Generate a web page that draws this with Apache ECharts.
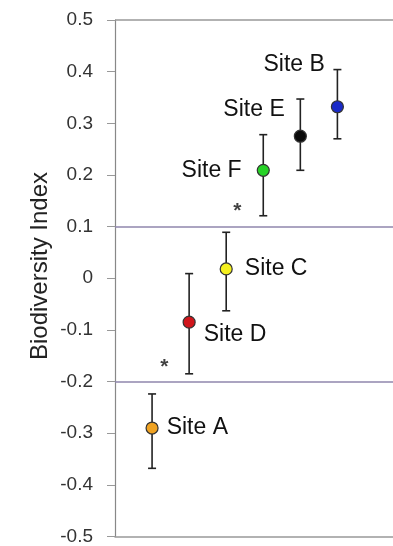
<!DOCTYPE html>
<html>
<head>
<meta charset="utf-8">
<script src="https://cdn.jsdelivr.net/npm/echarts@6/dist/echarts.min.js"></script>
<style>
  html, body { margin: 0; padding: 0; background: #fff; }
  #chart { width: 393px; height: 546px; }
</style>
</head>
<body>
<div id="chart"></div>
<script>
// site order along x (1..6)
const sites = ['Site A', 'Site D', 'Site C', 'Site F', 'Site E', 'Site B']
const xPos = [1, 2, 3, 4, 5, 6]
const means = [-0.29, -0.085, 0.018, 0.209, 0.275, 0.332]
const upper = [-0.224, 0.009, 0.089, 0.278, 0.347, 0.404]
const lower = [-0.368, -0.185, -0.063, 0.121, 0.209, 0.270]
const dotColors = ['#f0a323', '#d0151b', '#f5f01e', '#27d327', '#0a0a0a', '#1a2ac8']
// significance stars
const starX = [3.3, 1.33]
const starY = [0.13, -0.172]
// horizontal reference lines
const groupLines = [0.1, -0.2]
const yTicks = { min: -0.5, max: 0.5, interval: 0.1 }

// where each site label sits relative to its dot
const labelPlace = {
  'Site A': { position: 'right', offset: [3, 0] },
  'Site D': { position: 'right', offset: [3, 13] },
  'Site C': { position: 'right', offset: [7, 0] },
  'Site F': { position: 'left', offset: [-10, 0] },
  'Site E': { position: 'left', offset: [-4, -27] },
  'Site B': { position: 'left', offset: [-1, -42] }
}

const font = '"Liberation Sans", Arial, sans-serif'

const chart = echarts.init(document.getElementById('chart'))

const pointData = sites.map((s, i) => ({
  name: s,
  value: [xPos[i], means[i]],
  itemStyle: { color: dotColors[i] },
  label: {
    show: true,
    formatter: s,
    position: labelPlace[s].position,
    offset: labelPlace[s].offset,
    fontSize: 23,
    color: '#111',
    fontFamily: font
  }
}))

chart.setOption({
  animation: false,
  grid: { left: 115, right: -2, top: 20, bottom: 4 },
  xAxis: {
    type: 'value',
    min: 0,
    max: 7.5,
    axisLine: { show: true, onZero: false, lineStyle: { color: '#999', width: 1.5 } },
    axisTick: { show: false },
    axisLabel: { show: false },
    splitLine: { show: false }
  },
  yAxis: {
    type: 'value',
    min: yTicks.min,
    max: yTicks.max,
    interval: yTicks.interval,
    axisLine: { show: true, lineStyle: { color: '#888', width: 1.2 } },
    axisTick: { show: true, inside: false, length: 8, lineStyle: { color: '#999' } },
    axisLabel: {
      margin: 22,
      fontSize: 19,
      color: '#333',
      fontFamily: font,
      formatter: v => {
        const r = Math.round(v * 10) / 10
        return r === 0 ? '0' : r.toFixed(1)
      }
    },
    splitLine: { show: false }
  },
  graphic: [{
    type: 'text',
    x: 40,
    y: 266,
    rotation: Math.PI / 2,
    style: {
      text: 'Biodiversity Index',
      fontSize: 24,
      fill: '#222',
      fontFamily: font,
      align: 'center',
      verticalAlign: 'middle'
    }
  }],
  series: [
    {
      type: 'line',
      data: [],
      silent: true,
      markLine: {
        symbol: 'none',
        silent: true,
        label: { show: false },
        data: [
          { yAxis: 0.5, lineStyle: { color: '#999', width: 1.5, type: 'solid' } },
          ...groupLines.map(v => ({ yAxis: v, lineStyle: { color: '#8f86ad', width: 1.5, type: 'solid' } }))
        ]
      }
    },
    {
      type: 'custom',
      silent: true,
      data: sites.map((s, i) => [xPos[i], lower[i], upper[i]]),
      renderItem: (params, api) => {
        const lo = api.coord([api.value(0), api.value(1)])
        const hi = api.coord([api.value(0), api.value(2)])
        const half = 4
        const style = { stroke: '#222', lineWidth: 1.6 }
        return {
          type: 'group',
          children: [
            { type: 'line', shape: { x1: lo[0], y1: lo[1], x2: hi[0], y2: hi[1] }, style },
            { type: 'line', shape: { x1: hi[0] - half, y1: hi[1], x2: hi[0] + half, y2: hi[1] }, style },
            { type: 'line', shape: { x1: lo[0] - half, y1: lo[1], x2: lo[0] + half, y2: lo[1] }, style }
          ]
        }
      },
      z: 2
    },
    {
      type: 'scatter',
      symbol: 'circle',
      symbolSize: 12,
      itemStyle: { borderColor: '#333', borderWidth: 1.2, opacity: 1 },
      data: pointData,
      z: 3
    },
    {
      type: 'scatter',
      symbolSize: 0,
      silent: true,
      data: starX.map((x, i) => [x, starY[i]]),
      label: {
        show: true,
        formatter: '*',
        position: 'inside',
        fontSize: 21,
        fontWeight: 'bold',
        color: '#111',
        fontFamily: font
      }
    }
  ]
})
</script>
</body>
</html>
